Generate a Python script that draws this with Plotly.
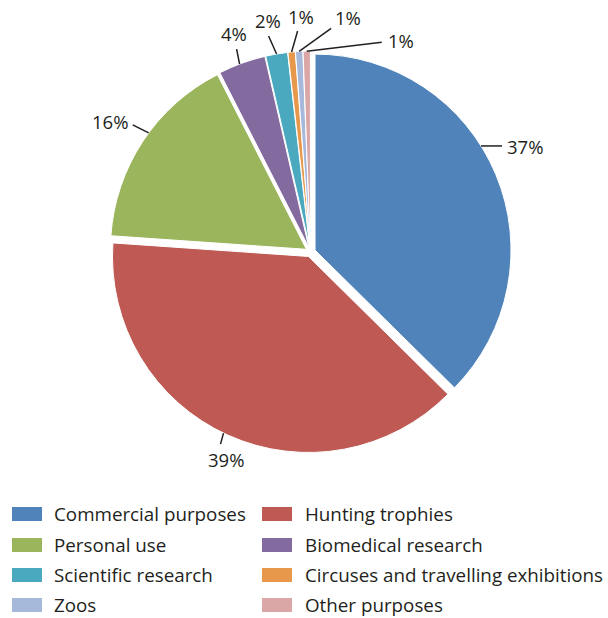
import math
import plotly.graph_objects as go

# Purposes of trade, share of total (%)
purposes = [
    "Commercial purposes",
    "Hunting trophies",
    "Personal use",
    "Biomedical research",
    "Scientific research",
    "Circuses and travelling exhibitions",
    "Zoos",
    "Other purposes",
]
shares = [37.4, 38.7, 16.4, 3.9, 1.8, 0.6, 0.6, 0.6]
colors = ["#5083B9", "#BE5953", "#9BB55D", "#836B9F",
          "#4AA9BF", "#E8984A", "#A6B9DB", "#DBA7A6"]

W, H = 608, 618
CX, CY, R = 310.5, 252.0, 196.0
PULL = 0.025
BOX = 2 * R * (1 + PULL)
FONT = "Open Sans"
INK = "#231F20"

# Label callouts: position along slice (0..1), leader vector (px),
# text anchors and text shift from the leader end (px)
callouts = [
    (0.43, (21, 0), "left", "middle", (4, 1)),
    (0.51, (-3, 11), "center", "top", (5, 2)),
    (0.55, (-16, -8), "right", "middle", (-4, -3)),
    (0.45, (-3, -15), "center", "bottom", (-3, -2)),
    (0.50, (-8, -18), "center", "bottom", (-1, -2)),
    (0.50, (6, -21), "center", "bottom", (3, -1)),
    (0.50, (32, -23), "left", "middle", (3, -11)),
    (0.50, (75, -9), "left", "middle", (5, -2)),
]


def px(x):
    return x / W


def py(y):
    return 1 - y / H


fig = go.Figure(go.Pie(
    labels=purposes,
    values=shares,
    sort=False,
    direction="clockwise",
    rotation=0,
    marker=dict(colors=colors, line=dict(color="white", width=1)),
    pull=[PULL] * len(shares),
    textinfo="none",
    hoverinfo="label+percent",
    showlegend=False,
    domain=dict(x=[px(CX - BOX / 2), px(CX + BOX / 2)],
                y=[py(CY + BOX / 2), py(CY - BOX / 2)]),
))

shapes = []
annotations = []
total = sum(shares)
cum = 0.0
for val, (frac, (lx, ly), xa, ya, (tx, ty)) in zip(shares, callouts):
    a0 = cum / total * 2 * math.pi
    a1 = (cum + val) / total * 2 * math.pi
    cum += val
    amid = (a0 + a1) / 2
    ox = PULL * R * math.sin(amid)
    oy = -PULL * R * math.cos(amid)
    ang = a0 + frac * (a1 - a0)
    sx = CX + ox + R * math.sin(ang)
    sy = CY + oy - R * math.cos(ang)
    ex, ey = sx + lx, sy + ly
    shapes.append(dict(type="line", xref="paper", yref="paper",
                       x0=px(sx), y0=py(sy), x1=px(ex), y1=py(ey),
                       line=dict(color=INK, width=1.5)))
    annotations.append(dict(
        xref="paper", yref="paper", x=px(ex + tx), y=py(ey + ty),
        text=f"{round(val / total * 100):.0f}%", showarrow=False,
        xanchor=xa, yanchor=ya, borderpad=0,
        font=dict(family=FONT, size=18.5, color=INK)))

# Two-column legend below the pie
rows = [514, 545, 575, 605]
cols = [(12, 52), (262, 303)]
for i, (name, col) in enumerate(zip(purposes, colors)):
    r_y = rows[i // 2]
    rx, tx = cols[i % 2]
    shapes.append(dict(type="rect", xref="paper", yref="paper",
                       x0=px(rx), x1=px(rx + 30), y0=py(r_y + 7), y1=py(r_y - 7),
                       fillcolor=col, line=dict(width=0)))
    annotations.append(dict(
        xref="paper", yref="paper", x=px(tx), y=py(r_y),
        text=name, showarrow=False, xanchor="left", yanchor="middle",
        font=dict(family=FONT, size=18.8, color=INK)))

fig.update_layout(
    width=W, height=H,
    margin=dict(l=0, r=0, t=0, b=0),
    paper_bgcolor="white",
    plot_bgcolor="white",
    shapes=shapes,
    annotations=annotations,
)

fig.write_html("out.html")
